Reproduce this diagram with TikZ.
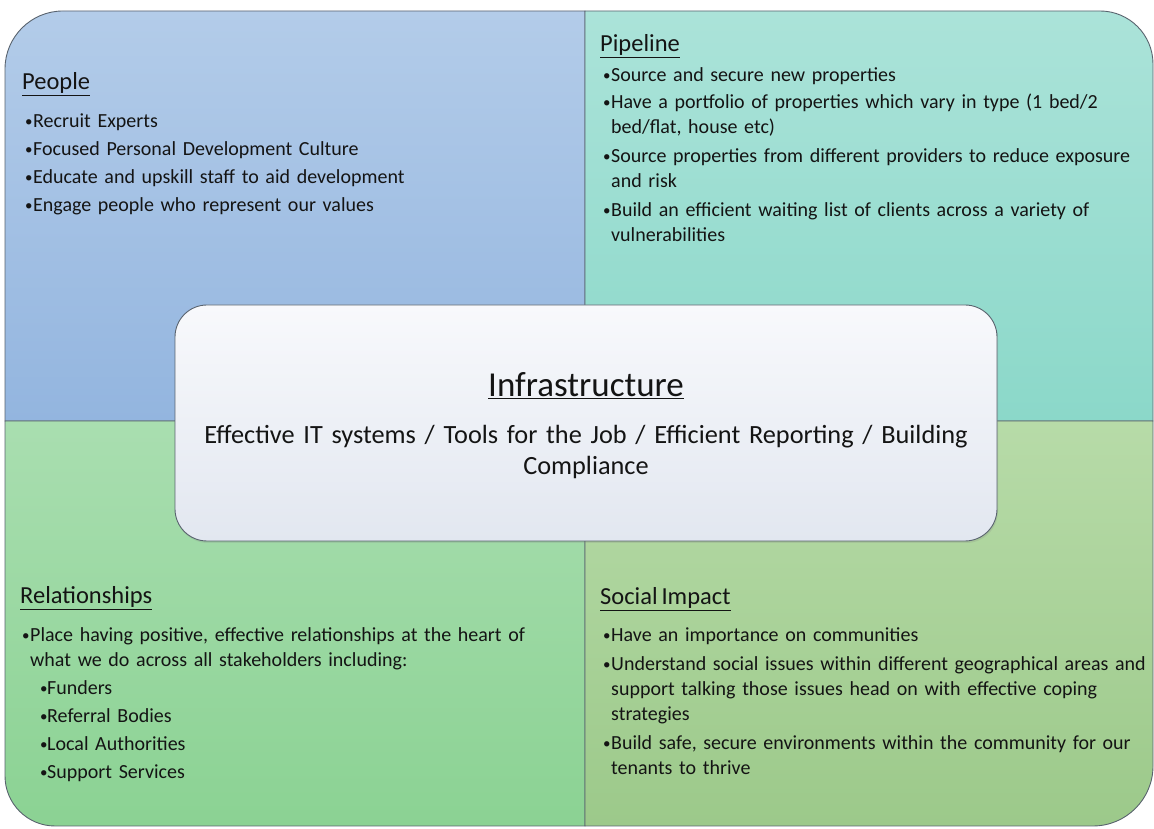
\documentclass[tikz,border=0pt]{standalone}
\usepackage{fontspec}
\setmainfont[WordSpace=0.7]{Carlito}
\usetikzlibrary{shadows}
\definecolor{bordercol}{HTML}{59636E}
\definecolor{txt}{HTML}{141414}
\definecolor{tlTop}{HTML}{B3CCE9}
\definecolor{tlBot}{HTML}{93B5DF}
\definecolor{trTop}{HTML}{ABE3D9}
\definecolor{trBot}{HTML}{8BD8C9}
\definecolor{blTop}{HTML}{A9DEB0}
\definecolor{blBot}{HTML}{8BD293}
\definecolor{brTop}{HTML}{B7DBA8}
\definecolor{brBot}{HTML}{9CC98A}
\definecolor{cTop}{HTML}{F8F9FC}
\definecolor{cBot}{HTML}{E2E7F0}
\newcommand\bul{\makebox[8pt][l]{\raisebox{1.6pt}{\scalebox{0.75}{•}}}}
\newcommand\cont{\hspace*{8pt}}
\newcommand\subbul{\hspace*{18pt}\makebox[7pt][l]{\raisebox{1.6pt}{\scalebox{0.75}{•}}}}
\begin{document}
\begin{tikzpicture}[x=1pt,y=1pt,
  quad/.style={draw=bordercol, line width=0.9pt},
  head/.style={anchor=base west, inner sep=0pt, font=\fontsize{24.5}{28}\selectfont, text=txt},
  body/.style={anchor=base west, inner sep=0pt, align=left, text width=560pt,
    font=\fontsize{20}{25}\selectfont, text=txt},
]
\useasboundingbox (0,0) rectangle (1154,829);
% quadrants
\path[quad, top color=tlTop, bottom color=tlBot]
  (585,408) -- (5,408) -- (5,760) arc[start angle=180,end angle=90,radius=58] -- (585,818) -- cycle;
\path[quad, top color=trTop, bottom color=trBot]
  (585,408) -- (585,818) -- (1100,818) arc[start angle=90,end angle=0,radius=53] -- (1153,408) -- cycle;
\path[quad, top color=blTop, bottom color=blBot]
  (585,408) -- (5,408) -- (5,53) arc[start angle=180,end angle=270,radius=50] -- (585,3) -- cycle;
\path[quad, top color=brTop, bottom color=brBot]
  (585,408) -- (1153,408) -- (1153,63) arc[start angle=0,end angle=-90,radius=60] -- (585,3) -- cycle;
% people
\node[head] (peopleH) at (22,739) {\underline{People}};
\node[body] (peopleB) at (25,701) {\bul Recruit Experts\\[3pt]
\bul Focused Personal Development Culture\\[3pt]
\bul Educate and upskill staff to aid development\\[3pt]
\bul Engage people who represent our values};
% pipeline
\node[head] (pipeH) at (600,777) {\underline{Pipeline}};
\node[body] (pipeB) at (603,747) {\bul Source and secure new properties\\[2pt]
\bul Have a portfolio of properties which vary in type (1 bed/2\\
\cont bed/flat, house etc)\\[4pt]
\bul Source properties from different providers to reduce exposure\\
\cont and risk\\[4pt]
\bul Build an efficient waiting list of clients across a variety of\\
\cont vulnerabilities};
% relationships
\node[head] (relH) at (20,225) {\underline{Relationships}};
\node[body] (relB) at (22,187) {\bul Place having positive, effective relationships at the heart of\\
\cont what we do across all stakeholders including:\\[3pt]
\subbul Funders\\[3pt]
\subbul Referral Bodies\\[3pt]
\subbul Local Authorities\\[3pt]
\subbul Support Services};
% social impact
\node[head] (socH) at (600,224) {\underline{Social Impact}};
\node[body] (socB) at (603,187) {\bul Have an importance on communities\\[4pt]
\bul Understand social issues within different geographical areas and\\
\cont support talking those issues head on with effective coping\\
\cont strategies\\[4pt]
\bul Build safe, secure environments within the community for our\\
\cont tenants to thrive};
% infrastructure
\node[draw=bordercol, line width=0.9pt, rounded corners=32pt, top color=cTop, bottom color=cBot,
  minimum width=822pt, minimum height=236pt, inner sep=0pt,
  drop shadow={opacity=0.2, shadow xshift=1pt, shadow yshift=-2pt}] (infra) at (586,406) {};
\node[anchor=base, inner sep=0pt, font=\fontsize{35}{40}\selectfont, text=txt] (infraH) at (586,432) {\underline{Infrastructure}};
\node[anchor=base, inner sep=0pt, align=center, text width=800pt, font=\fontsize{26.3}{31}\selectfont, text=txt] (infraB) at (586,385)
  {Effective IT systems / Tools for the Job / Efficient Reporting / Building\\ Compliance};
\end{tikzpicture}
\end{document}
